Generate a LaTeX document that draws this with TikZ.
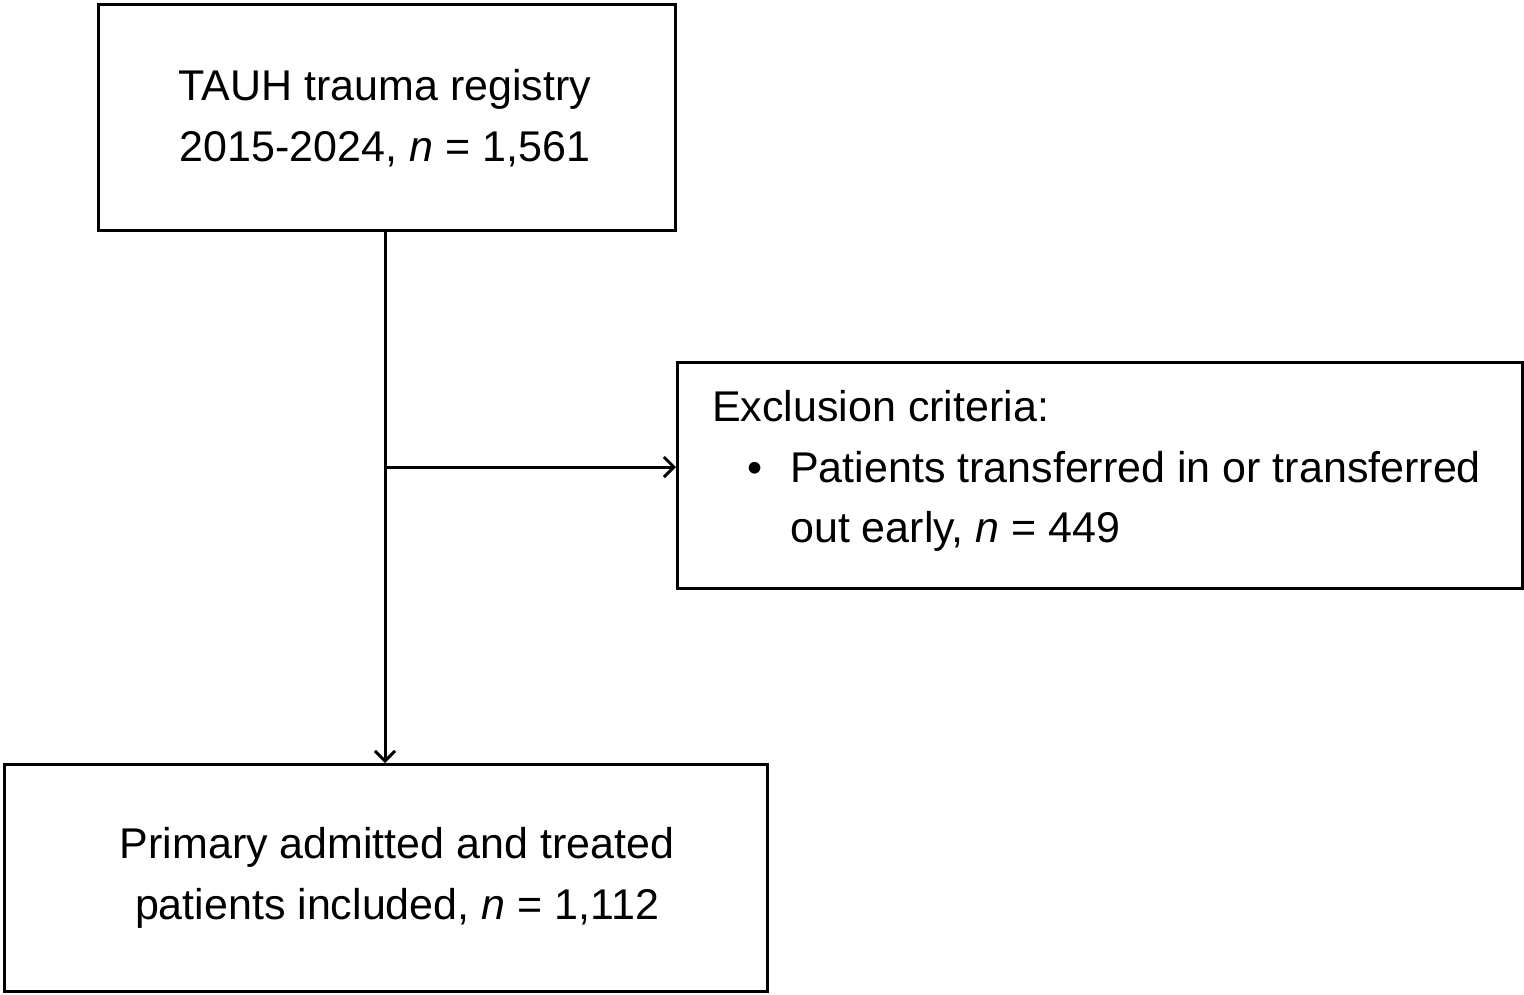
\documentclass[tikz,border=0pt]{standalone}
\usepackage{fontspec}
\setmainfont{Liberation Sans}
\usetikzlibrary{arrows.meta}
\begin{document}
\begin{tikzpicture}[x=1pt,y=-1pt,
  box/.style={draw=black,line width=2.8pt,fill=none},
  txt/.style={font=\fontsize{43}{60}\selectfont,inner sep=0pt,anchor=base},
  conn/.style={draw=black,line width=3pt,-{Straight Barb[length=10pt,width=20pt]}}]
\useasboundingbox (0,0) rectangle (1524,994);
\fill[white] (0,0) rectangle (1524,994);
% boxes
\node[box,minimum width=577pt,minimum height=226pt,anchor=north west,inner sep=0pt] (top) at (97,3) {};
\node[box,minimum width=845pt,minimum height=226pt,anchor=north west,inner sep=0pt] (excl) at (676,361) {};
\node[box,minimum width=763pt,minimum height=227pt,anchor=north west,inner sep=0pt] (incl) at (3,763) {};
% texts
\node[txt] (t1) at (385,100) {TAUH trauma registry};
\node[txt] (t2) at (385,161) {2015-2024, \textit{n} = 1,561};
\node[txt,anchor=base west] (e1) at (712,421) {Exclusion criteria:};
\node[txt] (bul) at (755,482) {\textbullet};
\node[txt,anchor=base west] (e2) at (790,482) {Patients transferred in or transferred};
\node[txt,anchor=base west] (e3) at (790,542) {out early, \textit{n} = 449};
\node[txt] (b1) at (397,858) {Primary admitted and treated};
\node[txt] (b2) at (397,919) {patients included, \textit{n} = 1,112};
% connectors
\coordinate (split) at (385,467);
\draw[conn] (top.south -| split) -- (incl.north -| split);
\draw[conn] (split) -- (excl.west |- split);
\end{tikzpicture}
\end{document}
